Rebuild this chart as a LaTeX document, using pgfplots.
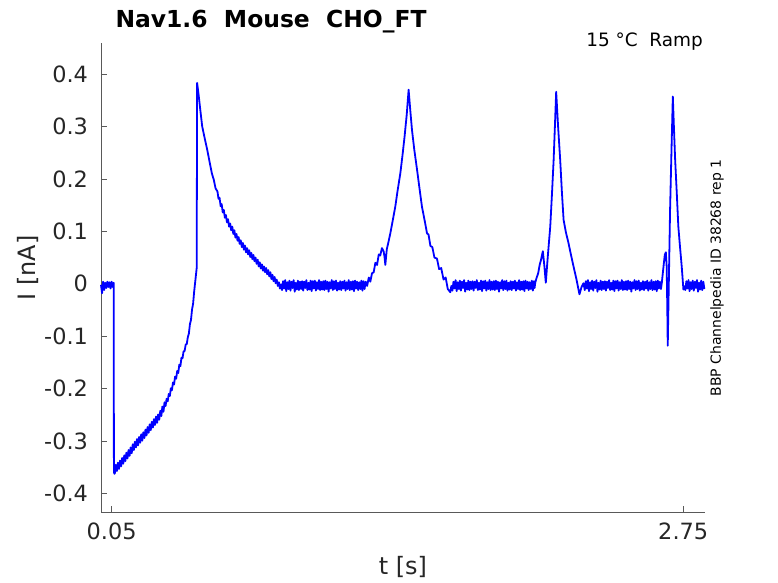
\documentclass[border=0pt]{standalone}
\usepackage{pgfplots}
\pgfplotsset{compat=1.18}
\usepackage{fontspec}
\setmainfont{DejaVu Sans}
\definecolor{txt}{RGB}{38,38,38}
\definecolor{trace}{RGB}{0,0,255}
\begin{document}
\begin{tikzpicture}
\useasboundingbox (0,0) rectangle (778bp,583bp);
\begin{axis}[
  scale only axis,
  width=604bp, height=469bp,
  at={(101bp,71bp)}, anchor=south west,
  xmin=0, xmax=2.853, ymin=-0.435, ymax=0.459,
  axis x line*=bottom, axis y line*=left,
  axis line style={-, color=black!65, line width=0.6bp},
  tick style={color=black!65, line width=0.6bp},
  tick align=inside,
  major tick length=6bp,
  xtick={0.05,2.75}, xticklabels={0.05,2.75},
  ytick={-0.4,-0.3,-0.2,-0.1,0,0.1,0.2,0.3,0.4},
  yticklabels={-0.4,-0.3,-0.2,-0.1,0,0.1,0.2,0.3,0.4},
  ticklabel style={font=\fontsize{22.5}{26}\selectfont, color=txt},
  yticklabel style={xshift=-9.5bp},
  xticklabel style={yshift=-7bp},
  clip=false,
]
\addplot[trace, line width=1.8bp, line join=round] coordinates {
(0.000,-0.002)(0.005,-0.018)(0.010,0.004)(0.015,-0.012)(0.020,0.002)(0.025,-0.008)(0.030,0.004)(0.035,-0.006)(0.040,0.003)(0.045,-0.009)(0.050,0.004)(0.055,-0.006)(0.060,0.002)
(0.061,-0.358)(0.063,-0.362)(0.065,-0.362)(0.070,-0.345)(0.075,-0.357)(0.080,-0.341)(0.085,-0.353)(0.090,-0.337)(0.095,-0.348)(0.100,-0.332)(0.105,-0.343)(0.110,-0.327)(0.115,-0.338)(0.120,-0.322)(0.125,-0.333)(0.130,-0.317)(0.135,-0.328)(0.140,-0.312)(0.145,-0.323)(0.150,-0.306)(0.155,-0.317)(0.160,-0.301)(0.165,-0.312)(0.170,-0.296)(0.175,-0.308)(0.180,-0.292)(0.185,-0.303)(0.190,-0.287)(0.195,-0.299)(0.200,-0.283)(0.205,-0.294)(0.210,-0.278)(0.215,-0.289)(0.220,-0.273)(0.225,-0.284)(0.230,-0.268)(0.235,-0.279)(0.240,-0.263)(0.245,-0.274)(0.250,-0.258)(0.255,-0.269)(0.260,-0.253)(0.265,-0.265)(0.270,-0.249)(0.275,-0.259)(0.280,-0.242)(0.285,-0.252)(0.290,-0.234)(0.295,-0.244)(0.300,-0.226)(0.305,-0.233)(0.310,-0.219)(0.315,-0.224)(0.320,-0.210)(0.325,-0.214)(0.330,-0.199)(0.335,-0.203)(0.340,-0.188)(0.345,-0.192)(0.350,-0.177)(0.355,-0.181)(0.360,-0.166)(0.365,-0.170)(0.370,-0.154)(0.375,-0.157)(0.380,-0.141)(0.385,-0.142)(0.390,-0.129)(0.395,-0.128)(0.400,-0.116)(0.405,-0.115)(0.410,-0.102)(0.415,-0.095)(0.420,-0.077)(0.425,-0.069)(0.430,-0.049)(0.435,-0.038)(0.440,-0.015)(0.448,0.015)(0.452,0.030)
(0.454,0.383)(0.462,0.357)(0.470,0.328)(0.478,0.300)(0.490,0.277)(0.502,0.255)(0.515,0.228)(0.524,0.210)(0.533,0.198)(0.541,0.182)(0.550,0.176)(0.555,0.162)(0.560,0.164)(0.565,0.148)(0.570,0.152)(0.575,0.136)(0.580,0.141)(0.585,0.126)(0.590,0.131)(0.595,0.117)(0.600,0.123)(0.605,0.109)(0.610,0.115)(0.615,0.102)(0.620,0.109)(0.625,0.095)(0.630,0.102)(0.635,0.088)(0.640,0.095)(0.645,0.082)(0.650,0.089)(0.655,0.076)(0.660,0.083)(0.665,0.070)(0.670,0.078)(0.675,0.065)(0.680,0.073)(0.685,0.060)(0.690,0.068)(0.695,0.056)(0.700,0.064)(0.705,0.051)(0.710,0.059)(0.715,0.047)(0.720,0.055)(0.725,0.043)(0.730,0.050)(0.735,0.038)(0.740,0.046)(0.745,0.033)(0.750,0.041)(0.755,0.029)(0.760,0.037)(0.765,0.025)(0.770,0.033)(0.775,0.022)(0.780,0.030)(0.785,0.018)(0.790,0.026)(0.795,0.014)(0.800,0.022)(0.805,0.009)(0.810,0.017)(0.815,0.005)(0.820,0.013)(0.825,0.001)(0.830,0.008)(0.835,-0.004)(0.840,0.003)(0.845,-0.009)(0.850,-0.001)
(0.855,-0.012)(0.860,0.005)(0.865,-0.009)(0.870,0.007)(0.875,-0.014)(0.880,0.003)(0.885,-0.010)(0.890,0.006)(0.895,-0.013)(0.900,0.004)(0.905,-0.008)(0.910,0.007)(0.915,-0.015)(0.920,0.002)(0.925,-0.011)(0.930,0.006)(0.935,-0.012)(0.940,0.004)(0.945,-0.010)(0.950,0.005)
(0.955,-0.013)(0.960,0.004)(0.965,-0.008)(0.970,0.007)(0.975,-0.012)(0.980,0.002)(0.985,-0.011)(0.990,0.006)(0.995,-0.014)(1.000,0.005)(1.005,-0.009)(1.010,0.006)(1.015,-0.013)(1.020,0.003)(1.025,-0.010)(1.030,0.007)(1.035,-0.012)(1.040,0.004)(1.045,-0.011)(1.050,0.005)
(1.055,-0.012)(1.060,0.006)(1.065,-0.010)(1.070,0.004)(1.075,-0.015)(1.080,0.003)(1.085,-0.009)(1.090,0.007)(1.095,-0.012)(1.100,0.005)(1.105,-0.010)(1.110,0.006)(1.115,-0.013)(1.120,0.002)(1.125,-0.011)(1.130,0.005)(1.135,-0.012)(1.140,0.004)(1.145,-0.009)(1.150,0.006)
(1.155,-0.013)(1.160,0.003)(1.165,-0.010)(1.170,0.007)(1.175,-0.012)(1.180,0.004)(1.185,-0.011)(1.190,0.005)(1.195,-0.014)(1.200,0.006)(1.205,-0.009)(1.210,0.004)(1.215,-0.012)(1.220,0.003)(1.225,-0.010)(1.230,0.006)(1.235,-0.013)(1.240,0.005)(1.245,-0.010)(1.250,0.004)
(1.257,-0.004)(1.265,0.012)(1.272,0.004)(1.280,0.020)(1.288,0.022)(1.296,0.040)(1.304,0.036)(1.312,0.056)(1.319,0.054)(1.327,0.068)(1.335,0.062)(1.339,0.052)(1.343,0.036)(1.350,0.066)(1.358,0.080)(1.367,0.097)(1.380,0.125)(1.390,0.147)(1.400,0.175)(1.414,0.211)(1.425,0.248)(1.434,0.281)(1.444,0.322)(1.453,0.370)(1.461,0.330)(1.469,0.293)(1.480,0.255)(1.493,0.217)(1.505,0.180)(1.516,0.147)(1.530,0.118)(1.540,0.096)(1.547,0.094)(1.556,0.072)(1.565,0.070)(1.575,0.050)(1.587,0.048)(1.597,0.028)(1.607,0.030)(1.618,0.008)(1.628,0.012)(1.638,-0.010)(1.650,-0.016)
(1.655,-0.004)(1.660,-0.013)(1.665,0.004)(1.670,-0.009)(1.675,0.007)(1.680,-0.014)(1.685,0.003)(1.690,-0.010)(1.695,0.006)(1.700,-0.013)(1.705,0.004)(1.710,-0.008)(1.715,0.007)(1.720,-0.015)(1.725,0.002)(1.730,-0.011)(1.735,0.006)(1.740,-0.012)(1.745,0.004)(1.750,-0.010)
(1.755,0.005)(1.760,-0.013)(1.765,0.004)(1.770,-0.008)(1.775,0.007)(1.780,-0.012)(1.785,0.002)(1.790,-0.011)(1.795,0.006)(1.800,-0.014)(1.805,0.005)(1.810,-0.009)(1.815,0.006)(1.820,-0.013)(1.825,0.003)(1.830,-0.010)(1.835,0.007)(1.840,-0.012)(1.845,0.004)(1.850,-0.011)
(1.855,0.005)(1.860,-0.012)(1.865,0.006)(1.870,-0.010)(1.875,0.004)(1.880,-0.015)(1.885,0.003)(1.890,-0.009)(1.895,0.007)(1.900,-0.012)(1.905,0.005)(1.910,-0.010)(1.915,0.006)(1.920,-0.013)(1.925,0.002)(1.930,-0.011)(1.935,0.005)(1.940,-0.012)(1.945,0.004)(1.950,-0.009)
(1.955,0.006)(1.960,-0.013)(1.965,0.003)(1.970,-0.010)(1.975,0.007)(1.980,-0.012)(1.985,0.004)(1.990,-0.011)(1.995,0.005)(2.000,-0.014)(2.005,0.006)(2.010,-0.009)(2.015,0.004)(2.020,-0.012)(2.025,0.003)(2.030,-0.010)(2.035,0.006)(2.040,-0.013)(2.045,0.005)(2.048,-0.008)
(2.051,0.002)(2.058,0.012)(2.065,0.020)(2.072,0.036)(2.078,0.045)(2.087,0.062)(2.094,0.035)(2.101,0.002)(2.110,0.050)(2.122,0.109)(2.130,0.170)(2.138,0.236)(2.144,0.300)(2.150,0.366)(2.159,0.300)(2.169,0.236)(2.177,0.175)(2.185,0.122)(2.196,0.098)(2.208,0.078)(2.220,0.055)(2.232,0.033)(2.245,0.010)(2.255,-0.010)(2.260,-0.020)(2.270,-0.006)(2.279,0.001)
(2.285,-0.012)(2.290,0.005)(2.295,-0.009)(2.300,0.007)(2.305,-0.014)(2.310,0.003)(2.315,-0.010)(2.320,0.006)(2.325,-0.013)(2.330,0.004)(2.335,-0.008)(2.340,0.007)(2.345,-0.015)(2.350,0.002)(2.355,-0.011)(2.360,0.006)(2.365,-0.012)(2.370,0.004)(2.375,-0.010)(2.380,0.005)
(2.385,-0.013)(2.390,0.004)(2.395,-0.008)(2.400,0.007)(2.405,-0.012)(2.410,0.002)(2.415,-0.011)(2.420,0.006)(2.425,-0.014)(2.430,0.005)(2.435,-0.009)(2.440,0.006)(2.445,-0.013)(2.450,0.003)(2.455,-0.010)(2.460,0.007)(2.465,-0.012)(2.470,0.004)(2.475,-0.011)(2.480,0.005)
(2.485,-0.012)(2.490,0.006)(2.495,-0.010)(2.500,0.004)(2.505,-0.015)(2.510,0.003)(2.515,-0.009)(2.520,0.007)(2.525,-0.012)(2.530,0.005)(2.535,-0.010)(2.540,0.006)(2.545,-0.013)(2.550,0.002)(2.555,-0.011)(2.560,0.005)(2.565,-0.012)(2.570,0.004)(2.575,-0.009)(2.580,0.006)
(2.585,-0.013)(2.590,0.003)(2.595,-0.010)(2.600,0.007)(2.605,-0.012)(2.610,0.004)(2.615,-0.011)(2.620,0.005)(2.625,-0.014)(2.630,0.006)(2.635,-0.009)(2.640,0.004)(2.645,-0.010)
(2.649,0.002)(2.657,0.033)(2.663,0.055)(2.668,0.060)(2.672,0.033)(2.675,-0.050)(2.677,-0.118)(2.682,0.000)(2.688,0.141)(2.695,0.260)(2.701,0.357)(2.706,0.300)(2.712,0.236)(2.720,0.170)(2.727,0.109)(2.735,0.070)(2.743,0.033)(2.751,-0.011)(2.755,-0.005)
(2.760,-0.012)(2.765,0.005)(2.770,-0.009)(2.775,0.007)(2.780,-0.014)(2.785,0.003)(2.790,-0.010)(2.795,0.006)(2.800,-0.013)(2.805,0.004)(2.810,-0.008)(2.815,0.007)(2.820,-0.015)(2.825,0.002)(2.830,-0.011)(2.835,0.006)(2.840,-0.012)(2.845,0.004)(2.850,-0.010)
};
\end{axis}
\node[anchor=base, font=\fontsize{23.5}{28}\selectfont\bfseries, text=black] at (271bp,555bp) {Nav1.6\ \ Mouse\ \ CHO\_FT};
\node[anchor=base east, font=\fontsize{18.5}{22}\selectfont, text=black, inner sep=0pt] at (703bp,536bp) {15 °C\ \ Ramp};
\node[font=\fontsize{24}{28}\selectfont, text=txt] at (403bp,16bp) {t [s]};
\node[rotate=90, font=\fontsize{24}{28}\selectfont, text=txt] at (28bp,315bp) {I [nA]};
\node[rotate=90, font=\fontsize{14}{17}\selectfont, text=black] at (717bp,305bp) {BBP Channelpedia ID 38268 rep 1};
\end{tikzpicture}
\end{document}
